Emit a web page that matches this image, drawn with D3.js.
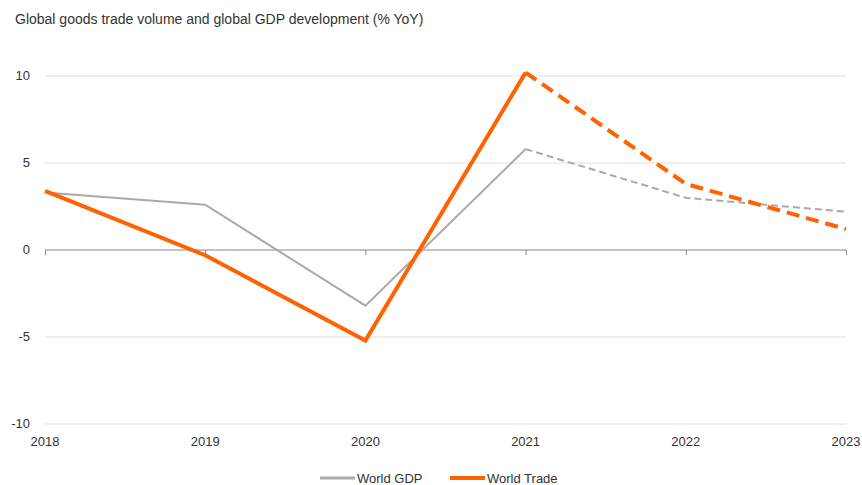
<!DOCTYPE html>
<html>
<head>
<meta charset="utf-8">
<style>
  body { margin: 0; background: #fff; }
  text { font-family: "Liberation Sans Narrow", "Liberation Sans", sans-serif; fill: #333; }
  .grid line { stroke: #e0e0e0; stroke-width: 1; }
</style>
<script src="https://d3js.org/d3.v7.min.js"></script>
</head>
<body>
<script>
// data
var years = ["2018", "2019", "2020", "2021", "2022", "2023"];
var worldGDP = [3.3, 2.6, -3.2, 5.8, 3.0, 2.2];
var worldTrade = [3.4, -0.3, -5.2, 10.2, 3.8, 1.2];
var yTicks = [-10, -5, 0, 5, 10];
var forecastFrom = 3; // 2021 onwards drawn dashed

var W = 862, H = 485;
var svg = d3.select("body").append("svg").attr("width", W).attr("height", H);

var x = d3.scalePoint().domain(years).range([45, 846]);
var y = d3.scaleLinear().domain([-10, 10]).range([424, 76]);

svg.append("text")
   .attr("x", 15).attr("y", 24)
   .style("font-size", "14px")
   .text("Global goods trade volume and global GDP development  (% YoY)");

// gridlines
svg.append("g").attr("class", "grid")
   .selectAll("line").data(yTicks.filter(function(d){ return d !== 0; }))
   .enter().append("line")
   .attr("x1", 45).attr("x2", 846)
   .attr("y1", function(d){ return y(d); })
   .attr("y2", function(d){ return y(d); });

// y labels
svg.append("g").selectAll("text").data(yTicks).enter().append("text")
   .attr("x", 30).attr("y", function(d){ return y(d) + 4; })
   .attr("text-anchor", "end")
   .style("font-size", "13px")
   .text(function(d){ return d; });

// zero axis with ticks
var xAxis = d3.axisBottom(x).tickSize(5).tickFormat("");
var ax = svg.append("g").attr("transform", "translate(0," + y(0) + ")").call(xAxis);
ax.select(".domain").attr("stroke", "#888").attr("d", "M45,0H846");
ax.selectAll(".tick line").attr("stroke", "#888");

// x labels
svg.append("g").selectAll("text").data(years).enter().append("text")
   .attr("x", function(d){ return x(d); }).attr("y", 446)
   .attr("text-anchor", "middle")
   .style("font-size", "13px")
   .text(function(d){ return d; });

var line = d3.line()
   .x(function(d){ return x(years[d.i]); })
   .y(function(d){ return y(d.v); });

function drawSeries(vals, color, width, dash) {
  var pts = vals.map(function(v, i){ return {i: i, v: v}; });
  svg.append("path").datum(pts.slice(0, forecastFrom + 1))
     .attr("d", line).attr("fill", "none")
     .attr("stroke", color).attr("stroke-width", width)
     .attr("stroke-linejoin", "miter");
  svg.append("path").datum(pts.slice(forecastFrom))
     .attr("d", line).attr("fill", "none")
     .attr("stroke", color).attr("stroke-width", width)
     .attr("stroke-dasharray", dash);
}
drawSeries(worldGDP, "#aaaaaa", 2, "7,4");
drawSeries(worldTrade, "#ff6200", 4, "13,7");

// legend
var legend = [
  {name: "World GDP", color: "#aaaaaa", w: 3, x: 320},
  {name: "World Trade", color: "#ff6200", w: 4, x: 450}
];
var lg = svg.append("g").selectAll("g").data(legend).enter().append("g")
   .attr("transform", function(d){ return "translate(" + d.x + ",478)"; });
lg.append("line").attr("x1", 0).attr("x2", 35)
   .attr("stroke", function(d){ return d.color; })
   .attr("stroke-width", function(d){ return d.w; });
lg.append("text").attr("x", 37).attr("y", 5)
   .style("font-size", "13px")
   .text(function(d){ return d.name; });
</script>
</body>
</html>
